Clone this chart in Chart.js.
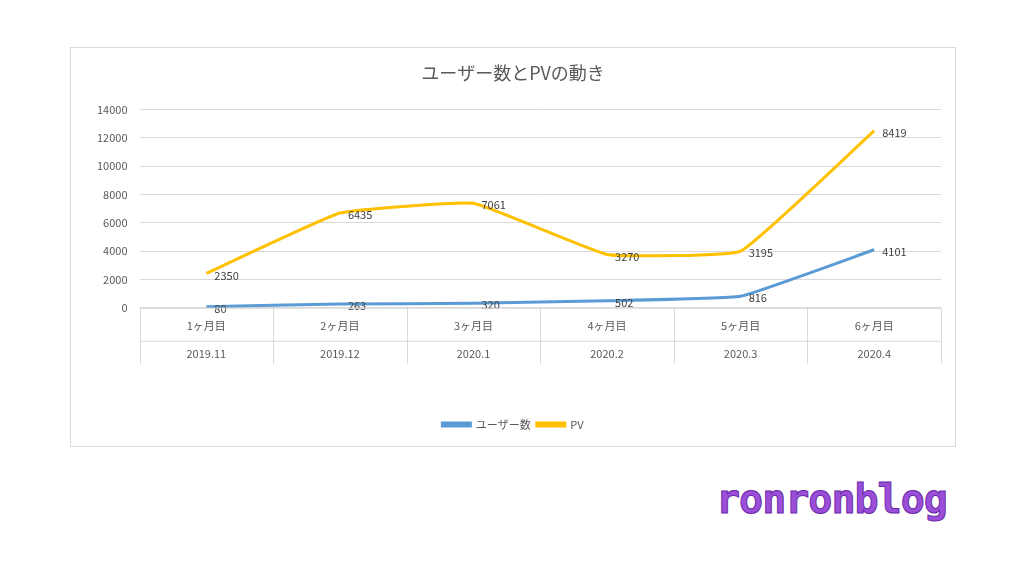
<!DOCTYPE html>
<html><head><meta charset="utf-8">
<script src="https://cdn.jsdelivr.net/npm/chart.js@4"></script>
<style>
body{margin:0;background:#fff;width:1024px;height:576px;position:relative;overflow:hidden;font-family:"Noto Sans CJK JP",sans-serif}
#box{position:absolute;left:70px;top:47px;width:886px;height:400px;border:1px solid #d9d9d9;box-sizing:border-box}
#wm{position:absolute;left:716px;top:476px;font:bold 40px "DejaVu Sans Mono",monospace;color:#9b4fd8;letter-spacing:-1px;-webkit-text-stroke:1px #6a2aa8}
</style></head><body>
<div id="box"><canvas id="c" width="884" height="398"></canvas></div>
<div id="wm">ronronblog</div>
<script>
const months=['1ヶ月目','2ヶ月目','3ヶ月目','4ヶ月目','5ヶ月目','6ヶ月目'];
const periods=['2019.11','2019.12','2020.1','2020.2','2020.3','2020.4'];
const users=[80,263,320,502,816,4101];
const pv=[2350,6435,7061,3270,3195,8419];
const yTicks=[0,2000,4000,6000,8000,10000,12000,14000];
const font="'Noto Sans CJK JP',sans-serif";
const labelsPlugin={id:'lbl',afterDatasetsDraw(ch){const c=ch.ctx;c.save();c.font="11px "+font;c.fillStyle='#404040';c.textAlign='left';c.textBaseline='middle';
ch.data.datasets.forEach((d,i)=>{ch.getDatasetMeta(i).data.forEach((p,j)=>{c.fillText(String(d.data[j]),p.x+8,p.y+2);});});c.restore();}};
const sepPlugin={id:'sep',afterDraw(ch){const x=ch.scales.x,c=ch.ctx;const top=x.top,bot=top+56;c.save();c.strokeStyle='#d9d9d9';c.lineWidth=1;
const n=months.length,w=(x.right-x.left)/n;for(let i=0;i<=n;i++){const xx=Math.round(x.left+i*w)+0.5;c.beginPath();c.moveTo(xx,top);c.lineTo(xx,bot);c.stroke();}
c.beginPath();c.moveTo(x.left,top+0.5);c.lineTo(x.right,top+0.5);c.moveTo(x.left,top+33.5);c.lineTo(x.right,top+33.5);c.stroke();
c.font="11px "+font;c.fillStyle='#595959';c.textAlign='center';c.textBaseline='middle';
for(let i=0;i<n;i++){const cx=x.left+(i+0.5)*w;c.fillText(months[i],cx,top+18);c.fillText(periods[i],cx,top+46);}c.restore();}};
new Chart(document.getElementById('c'),{type:'line',
data:{labels:months,datasets:[
{label:'ユーザー数',data:users,borderColor:'#5b9bd5',backgroundColor:'#5b9bd5',borderWidth:3,pointRadius:0,tension:0.1,stack:'s'},
{label:'PV',data:pv,borderColor:'#ffc000',backgroundColor:'#ffc000',borderWidth:3,pointRadius:0,tension:0.1,stack:'s'}]},
options:{responsive:false,animation:false,layout:{padding:{left:14,right:14,top:0,bottom:6}},
plugins:{title:{display:true,text:'ユーザー数とPVの動き',color:'#595959',font:{family:font,size:18,weight:'normal'},padding:{top:14,bottom:26}},
legend:{position:'bottom',labels:{boxWidth:28,boxHeight:3,color:'#595959',padding:6,font:{family:font,size:11}}},tooltip:{enabled:false}},
scales:{x:{offset:true,grid:{display:false},border:{display:false},ticks:{display:true,color:'transparent',font:{size:11},padding:42,maxRotation:0,minRotation:0,autoSkip:false}},
y:{stacked:true,min:0,max:14000,afterBuildTicks:s=>{s.ticks=yTicks.map(v=>({value:v}));},grid:{color:'#d9d9d9',drawTicks:false},border:{display:false},
ticks:{color:'#595959',font:{family:font,size:11},padding:12,callback:v=>String(v)}}}},
plugins:[labelsPlugin,sepPlugin]});
</script></body></html>
